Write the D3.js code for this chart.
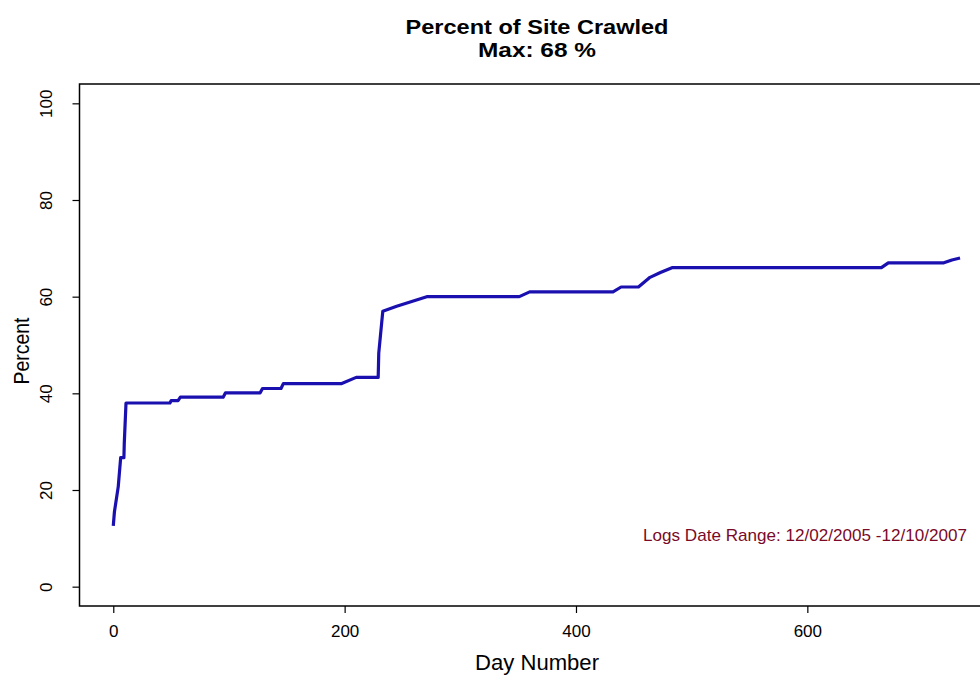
<!DOCTYPE html>
<html>
<head>
<meta charset="utf-8">
<script src="https://cdn.jsdelivr.net/npm/d3@7"></script>
<style>
  html, body { margin: 0; padding: 0; background: #fff; }
  svg { display: block; }
  text { font-family: "Liberation Sans Narrow", "Arial Narrow", "Liberation Sans", Arial, sans-serif; fill: #000; }
</style>
</head>
<body>
<svg id="chart" width="980" height="677"></svg>
<script>
// ---- data ----
const days    = [0, 1, 4.3, 6.4, 9.2, 9.5, 11, 49, 50, 56, 58, 95, 97, 127, 129, 145, 147, 197, 210, 229, 229.5, 233, 245, 258, 271, 351, 360, 432, 439, 454, 464, 473, 483, 664, 670, 718, 725, 732];
const percent = [12.6, 15.5, 20.7, 26.7, 26.7, 29.6, 38, 38, 38.5, 38.5, 39.2, 39.2, 40.1, 40.1, 41, 41, 42, 42, 43.3, 43.3, 48.3, 57, 58, 59, 60, 60, 61, 61, 62, 62, 64, 65, 66, 66, 67, 67, 67.6, 68];
const xTicks = [0, 200, 400, 600];
const yTicks = [0, 20, 40, 60, 80, 100];
const titleText = "Percent of Site Crawled";
const subtitleText = "Max:  68 %";
const xLabel = "Day Number";
const yLabel = "Percent";
const noteText = "Logs Date Range: 12/02/2005 -12/10/2007";

// ---- layout ----
const svg = d3.select("#chart");
const L = 79.5, R = 991.5, T = 84, B = 606;
const x = d3.scaleLinear().domain([-29.2, 759.2]).range([L, R]);
const y = d3.scaleLinear().domain([-4, 104]).range([B, T]);

// box
svg.append("rect")
  .attr("x", L).attr("y", T).attr("width", R - L).attr("height", B - T)
  .attr("fill", "none").attr("stroke", "#000").attr("stroke-width", 1.5);

// x axis
const xAxis = d3.axisBottom(x).tickValues(xTicks).tickSize(7).tickPadding(6).tickFormat(d3.format("d"));
const gx = svg.append("g").attr("transform", `translate(0,${B})`).call(xAxis);
gx.select(".domain").remove();
gx.selectAll(".tick line").attr("stroke", "#000").attr("stroke-width", 1.2);
gx.selectAll(".tick text").attr("font-size", 17).attr("dy", "1.05em")
  .style("font-family", '"Liberation Sans Narrow", "Liberation Sans", Arial, sans-serif');

// y axis
const yAxis = d3.axisLeft(y).tickValues(yTicks).tickSize(7).tickPadding(0).tickFormat(d3.format("d"));
const gy = svg.append("g").attr("transform", `translate(${L},0)`).call(yAxis);
gy.select(".domain").remove();
gy.selectAll(".tick line").attr("stroke", "#000").attr("stroke-width", 1.2);
gy.selectAll(".tick text")
  .attr("font-size", 17)
  .attr("x", null).attr("dy", null)
  .attr("text-anchor", "middle")
  .attr("transform", "translate(-28,0) rotate(-90)")
  .style("font-family", '"Liberation Sans Narrow", "Liberation Sans", Arial, sans-serif');

// line
const line = d3.line().x((d, i) => x(days[i])).y((d, i) => y(percent[i]));
svg.append("path")
  .datum(percent)
  .attr("d", line)
  .attr("fill", "none")
  .attr("stroke", "#1a10b0")
  .attr("stroke-width", 3.2)
  .attr("stroke-linejoin", "round");

// titles
svg.append("text").attr("x", 537).attr("y", 34).attr("text-anchor", "middle")
  .attr("font-size", 20).attr("font-weight", "bold")
  .attr("textLength", 263).attr("lengthAdjust", "spacingAndGlyphs")
  .text(titleText);
svg.append("text").attr("x", 537).attr("y", 57).attr("text-anchor", "middle")
  .attr("font-size", 20).attr("font-weight", "bold")
  .attr("textLength", 118).attr("lengthAdjust", "spacingAndGlyphs")
  .text(subtitleText);

// axis labels
svg.append("text").attr("x", 537).attr("y", 670).attr("text-anchor", "middle")
  .attr("font-size", 22)
  .attr("textLength", 124).attr("lengthAdjust", "spacingAndGlyphs")
  .text(xLabel);
svg.append("text").attr("transform", "translate(29,351) rotate(-90)").attr("text-anchor", "middle")
  .attr("font-size", 22)
  .attr("textLength", 67).attr("lengthAdjust", "spacingAndGlyphs")
  .text(yLabel);

// note
svg.append("text").attr("x", 643).attr("y", 541)
  .attr("font-size", 17)
  .style("fill", "#7a0a28")
  .attr("textLength", 324).attr("lengthAdjust", "spacingAndGlyphs")
  .text(noteText);
</script>
</body>
</html>
